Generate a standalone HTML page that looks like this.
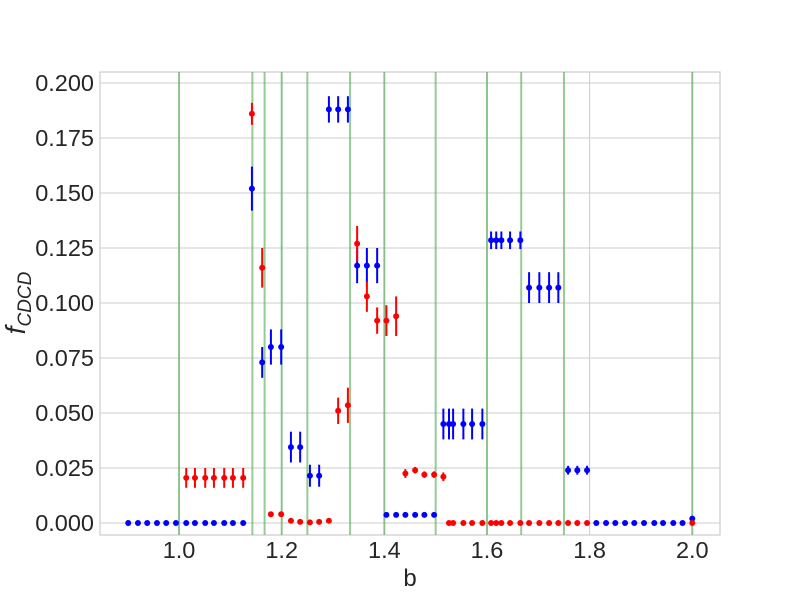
<!DOCTYPE html>
<html><head><meta charset="utf-8"><style>
body{margin:0;background:#fff}
svg{font-family:"Liberation Sans",sans-serif}
</style></head><body>
<svg id="chart" width="800" height="600" xmlns="http://www.w3.org/2000/svg"></svg>
<script>
const xTicks=[1.0,1.2,1.4,1.6,1.8,2.0];
const yTicks=[0,0.025,0.05,0.075,0.1,0.125,0.15,0.175,0.2];
const vLines=[1.0,1.1429,1.1667,1.2,1.25,1.3333,1.4,1.5,1.6,1.6667,1.75,2.0];
const redX=[1.014,1.031,1.051,1.068,1.088,1.105,1.125,1.142,1.162,1.179,1.199,1.218,1.236,1.255,1.273,1.292,1.310,1.329,1.347,1.366,1.386,1.404,1.423,1.441,1.460,1.478,1.497,1.515,1.526,1.534,1.554,1.571,1.591,1.608,1.618,1.628,1.645,1.665,1.682,1.702,1.721,1.739,1.758,1.776,1.795,2.0];
const redY=[.0205,.0205,.0205,.0205,.0205,.0205,.0205,.186,.116,.004,.004,.001,.0005,.0003,.0005,.001,.051,.0535,.127,.103,.092,.092,.094,.0225,.024,.022,.022,.021,0,0,0,0,0,0,0,0,0,0,0,0,0,0,0,0,0,0];
const redE=[.0045,.0045,.0045,.0045,.0045,.0045,.0045,.005,.009,.001,.001,0,0,0,0,0,.006,.008,.008,.007,.006,.007,.009,.002,.0015,.0015,.0015,.002,0,0,0,0,0,0,0,0,0,0,0,0,0,0,0,0,0,0];
const blueX=[0.901,0.920,0.938,0.957,0.975,0.994,1.014,1.031,1.051,1.068,1.088,1.105,1.125,1.142,1.162,1.179,1.199,1.218,1.236,1.255,1.273,1.292,1.310,1.329,1.347,1.366,1.386,1.404,1.423,1.441,1.460,1.478,1.497,1.515,1.526,1.534,1.554,1.571,1.591,1.608,1.618,1.628,1.645,1.665,1.682,1.702,1.721,1.739,1.758,1.776,1.795,1.813,1.832,1.850,1.869,1.887,1.906,1.926,1.943,1.963,1.981,2.0];
const blueY=[0,0,0,0,0,0,0,0,0,0,0,0,0,.152,.073,.080,.080,.0345,.0345,.0215,.0215,.188,.188,.188,.117,.117,.117,.0037,.0037,.0037,.0037,.0037,.0037,.045,.045,.045,.045,.045,.045,.1285,.1285,.1285,.1285,.1285,.107,.107,.107,.107,.024,.024,.024,0,0,0,0,0,0,0,0,0,0,.002];
const blueE=[0,0,0,0,0,0,0,0,0,0,0,0,0,.01,.007,.008,.008,.007,.007,.005,.005,.006,.006,.006,.008,.008,.008,0,0,0,0,0,0,.007,.007,.007,.007,.007,.007,.004,.004,.004,.004,.004,.007,.007,.007,.007,.002,.002,.002,0,0,0,0,0,0,0,0,0,0,0];

const svg=document.getElementById('chart');
const NS='http://www.w3.org/2000/svg';
const L=100,R=720,T=72,B=535;
const X0=0.846,X1=2.054,Y0=-0.00545,Y1=0.205;
const sx=v=>L+(v-X0)/(X1-X0)*(R-L);
const sy=v=>B-(v-Y0)/(Y1-Y0)*(B-T);
function mk(tag,attrs,parent){const e=document.createElementNS(NS,tag);for(const k in attrs)e.setAttribute(k,attrs[k]);(parent||svg).appendChild(e);return e;}

const grid=mk('g',{});


yTicks.forEach(t=>{mk('line',{x1:L,x2:R,y1:sy(t),y2:sy(t),stroke:'#cccccc','stroke-width':1},grid);
 const tx=mk('text',{x:L-6,y:sy(t)+8,'text-anchor':'end','font-size':23.5,fill:'#262626'});tx.textContent=t.toFixed(3);
 
 });
xTicks.forEach(t=>{mk('line',{x1:sx(t),x2:sx(t),y1:T,y2:B,stroke:'#cccccc','stroke-width':1},grid);
 const tx=mk('text',{x:sx(t),y:B+23,'text-anchor':'middle','font-size':23.5,fill:'#262626'});tx.textContent=t.toFixed(1);
 
 });
mk('rect',{x:L,y:T,width:R-L,height:B-T,fill:'none',stroke:'#cccccc','stroke-width':1.2});
vLines.forEach(v=>{const l=mk('line',{x1:sx(v),x2:sx(v),y1:T,y2:B,stroke:'#6ab56a','stroke-opacity':0.7,'stroke-width':2});
 
 });
function series(xs,ys,es,color,name){
 const g=mk('g',{});
 
 
 xs.forEach((x,i)=>{
  if(es[i]>0)mk('line',{x1:sx(x),x2:sx(x),y1:sy(ys[i]-es[i]),y2:sy(ys[i]+es[i]),stroke:color,'stroke-width':2},g);
  const c=mk('circle',{cx:sx(x),cy:sy(ys[i]),r:3,fill:color},g);
  
  
 });
}
series(blueX,blueY,blueE,'#0000ff','blue-series');
series(redX,redY,redE,'#ff0000','red-series');
const xl=mk('text',{x:(L+R)/2,y:586,'text-anchor':'middle','font-size':24,fill:'#262626'});xl.textContent='b';


const yl=mk('text',{transform:'translate(25,303) rotate(-90)','text-anchor':'middle','font-size':28,fill:'#262626','font-style':'italic'});
yl.innerHTML='f<tspan font-size="19" dy="6">CDCD</tspan>';


</script>
</body></html>
